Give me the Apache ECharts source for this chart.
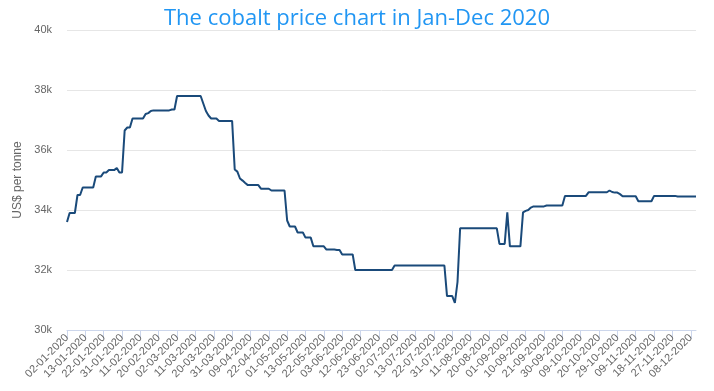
<!DOCTYPE html>
<html>
<head>
<meta charset="utf-8">
<script src="https://cdn.jsdelivr.net/npm/echarts@6/dist/echarts.min.js"></script>
<style>html,body{margin:0;padding:0;background:#fff}#c{width:714px;height:391px}</style>
</head>
<body>
<div id="c"></div>
<script>
// UK business days, 2020 (dd-mm-2020)
const jan = ['02','03','06','07','08','09','10','13','14','15','16','17','20','21','22','23','24','27','28','29','30','31'];
const feb = ['03','04','05','06','07','10','11','12','13','14','17','18','19','20','21','24','25','26','27','28'];
const mar = ['02','03','04','05','06','09','10','11','12','13','16','17','18','19','20','23','24','25','26','27','30','31'];
const apr = ['01','02','03','06','07','08','09','14','15','16','17','20','21','22','23','24','27','28','29','30'];
const may = ['01','04','05','06','07','11','12','13','14','15','18','19','20','21','22','26','27','28','29'];
const jun = ['01','02','03','04','05','08','09','10','11','12','15','16','17','18','19','22','23','24','25','26','29','30'];
const jul = ['01','02','03','06','07','08','09','10','13','14','15','16','17','20','21','22','23','24','27','28','29','30','31'];
const aug = ['03','04','05','06','07','10','11','12','13','14','17','18','19','20','21','24','25','26','27','28'];
const sep = ['01','02','03','04','07','08','09','10','11','14','15','16','17','18','21','22','23','24','25','28','29','30'];
const oct = ['01','02','05','06','07','08','09','12','13','14','15','16','19','20','21','22','23','26','27','28','29','30'];
const nov = ['02','03','04','05','06','09','10','11','12','13','16','17','18','19','20','23','24','25','26','27','30'];
const dec = ['01','02','03','04','07','08','09','10'];

// Prices, US$ per tonne
const pJan = [33600,33900,33900,33900,34500,34500,34750,34750,34750,34750,34750,35120,35120,35120,35250,35250,35330,35330,35330,35400,35250,35250];
const pFeb = [36650,36750,36750,37050,37050,37050,37050,37050,37200,37230,37300,37320,37320,37320,37320,37320,37320,37320,37350,37350];
const pMar = [37800,37800,37800,37800,37800,37800,37800,37800,37800,37800,37550,37300,37150,37050,37050,37050,36970,36970,36970,36970,36970,36970];
const pApr = [35350,35280,35050,34980,34900,34830,34830,34830,34830,34830,34710,34710,34710,34710,34650,34650,34650,34650,34650,34650];
const pMay = [33650,33450,33450,33450,33250,33250,33250,33080,33080,33080,32790,32790,32790,32790,32790,32680,32680,32680,32680];
const pJun = [32670,32670,32520,32520,32520,32520,32520,32000,32000,32000,32000,32000,32000,32000,32000,32000,32000,32000,32000,32000,32000,32000];
const pJul = [32150,32150,32150,32150,32150,32150,32150,32150,32150,32150,32150,32150,32150,32150,32150,32150,32150,32150,32150,32150,31130,31130,31130];
const pAug = [30900,31600,33390,33390,33390,33390,33390,33390,33390,33390,33390,33390,33390,33390,33390,33390,33390,32870,32870,32870];
const pSep = [33920,32790,32790,32790,32790,32790,33920,33970,34000,34080,34120,34120,34120,34120,34120,34150,34150,34150,34150,34150,34150,34150];
const pOct = [34470,34470,34470,34470,34470,34470,34470,34470,34470,34590,34590,34590,34590,34590,34590,34590,34590,34650,34600,34580,34580,34530];
const pNov = [34460,34460,34460,34460,34460,34460,34290,34290,34290,34290,34290,34290,34470,34470,34470,34470,34470,34470,34470,34470,34470];
const pDec = [34450,34450,34450,34450,34450,34450,34450,34450];

const months = [[jan,'01'],[feb,'02'],[mar,'03'],[apr,'04'],[may,'05'],[jun,'06'],[jul,'07'],[aug,'08'],[sep,'09'],[oct,'10'],[nov,'11'],[dec,'12']];
const categories = [];
months.forEach(([days, m]) => days.forEach(d => categories.push(d + '-' + m + '-2020')));
const prices = [].concat(pJan,pFeb,pMar,pApr,pMay,pJun,pJul,pAug,pSep,pOct,pNov,pDec);

const chart = echarts.init(document.getElementById('c'), null, {renderer: 'canvas'});
chart.setOption({
  animation: false,
  backgroundColor: '#fff',
  title: {
    text: 'The cobalt price chart in Jan-Dec 2020',
    left: 'center',
    top: 3,
    textStyle: {color: '#2196F3', fontSize: 22, fontWeight: 'normal', fontFamily: 'Open Sans, Noto Sans, sans-serif'}
  },
  grid: {left: 67, right: 18, top: 30, bottom: 61, containLabel: false},
  xAxis: {
    type: 'category',
    data: categories,
    boundaryGap: false,
    axisLine: {lineStyle: {color: '#ccd6eb'}},
    axisTick: {interval: 6, length: 9, lineStyle: {color: '#ccd6eb'}},
    axisLabel: {interval: 6, rotate: 45, color: '#666', fontSize: 11, margin: 6, fontFamily: 'Liberation Sans, Arial, sans-serif'},
    splitLine: {show: false}
  },
  yAxis: {
    type: 'value',
    min: 30000,
    max: 40000,
    interval: 2000,
    name: 'US$ per tonne',
    nameLocation: 'middle',
    nameGap: 43,
    nameTextStyle: {color: '#666', fontSize: 12, fontFamily: 'Liberation Sans, Arial, sans-serif'},
    axisLine: {show: false},
    axisTick: {show: false},
    axisLabel: {color: '#666', fontSize: 11, margin: 15, fontFamily: 'Liberation Sans, Arial, sans-serif', formatter: v => (v / 1000) + 'k'},
    splitLine: {lineStyle: {color: '#e6e6e6'}}
  },
  series: [{
    type: 'line',
    data: prices,
    showSymbol: false,
    lineStyle: {color: '#1a4a7a', width: 2},
    itemStyle: {color: '#1a4a7a'}
  }]
});
</script>
</body>
</html>
